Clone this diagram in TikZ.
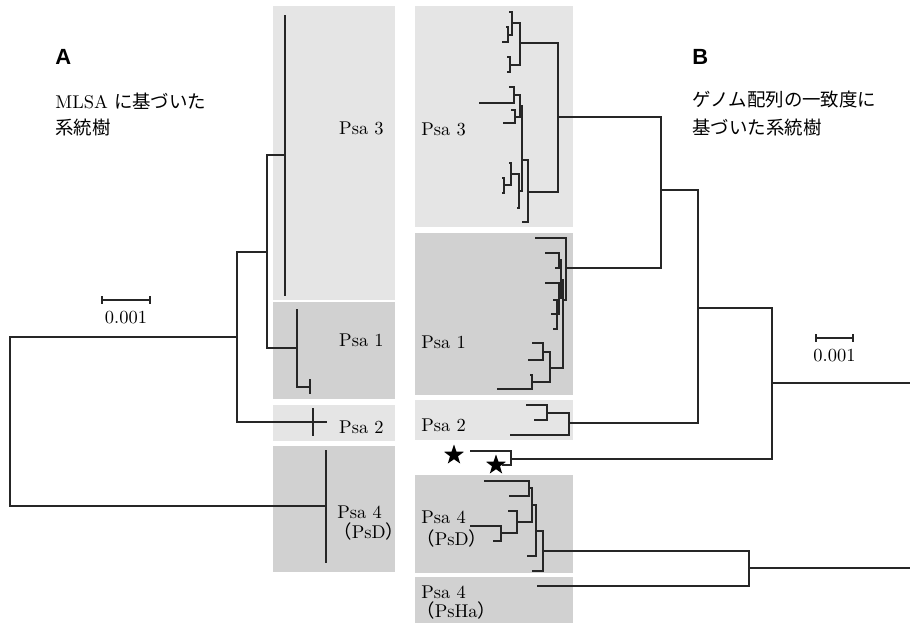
\documentclass[tikz,border=0pt]{standalone}
\usepackage{fontspec}
\newfontfamily\jpfont{Noto Sans CJK JP}
\newfontfamily\headfont{Liberation Sans}
\usetikzlibrary{shapes.geometric, arrows.meta, positioning}

\begin{document}
\begin{tikzpicture}[
    x=0.02cm, y=-0.02cm,
    branch/.style={draw=black!85, line width=0.6pt},
    lightbox/.style={fill=black!10},
    darkbox/.style={fill=black!18},
    lbl/.style={inner sep=0pt, font=\fontsize{10.5}{12}\selectfont},
    title/.style={inner sep=0pt, anchor=west, font=\headfont\bfseries\fontsize{12.5}{14}\selectfont},
    caption/.style={inner sep=0pt, anchor=west, font=\fontsize{10.5}{12}\selectfont},
    scalebar/.style={{Bar[width=4pt]}-{Bar[width=4pt]}, line width=1pt, draw=black!85},
    starmark/.style={star, star points=5, star point ratio=2.5, fill=black, inner sep=0pt, minimum size=0.42cm}
]
\useasboundingbox (0,0) rectangle (910,623);

% Clade backgrounds (A)
\path[lightbox] (273,6) rectangle (395,300);
\path[darkbox] (273,302) rectangle (395,399);
\path[lightbox] (273,405) rectangle (395,441);
\path[darkbox] (273,446) rectangle (395,572);

% Clade backgrounds (B)
\path[lightbox] (415,6) rectangle (573,227);
\path[darkbox] (415,233) rectangle (573,395);
\path[lightbox] (415,400) rectangle (573,440);
\path[darkbox] (415,475) rectangle (573,573);
\path[darkbox] (415,577) rectangle (573,623);

% Titles
\node[title] (titleA) at (55,57) {A};
\node[caption] (capA1) at (55,101) {MLSA {\jpfont に基づいた}};
\node[caption] (capA2) at (55,128) {\jpfont 系統樹};
\node[title] (titleB) at (692,57) {B};
\node[caption] (capB1) at (692,100) {\jpfont ゲノム配列の一致度に};
\node[caption] (capB2) at (692,128) {\jpfont 基づいた系統樹};

% Scale bars
\coordinate (sbAl) at (101,300);
\coordinate (sbAr) at (151,300);
\draw[scalebar] (sbAl) -- node[lbl, below=6pt] (sbAtext) {0.001} (sbAr);
\coordinate (sbBl) at (815,338);
\coordinate (sbBr) at (854,338);
\draw[scalebar] (sbBl) -- node[lbl, below=6pt] (sbBtext) {0.001} (sbBr);

% Clade labels (A)
\node[lbl, anchor=east] (lA3) at (384,128) {Psa 3};
\node[lbl, anchor=east] (lA1) at (384,340) {Psa 1};
\node[lbl, anchor=east] (lA2) at (384,427) {Psa 2};
\node[lbl, anchor=west] (lA4) at (337,512) {Psa 4};
\node[lbl, anchor=west] (lA4b) at (333,531) {{\jpfont （}PsD{\jpfont ）}};

% Clade labels (B)
\node[lbl, anchor=west] (lB3) at (421,129) {Psa 3};
\node[lbl, anchor=west] (lB1) at (421,342) {Psa 1};
\node[lbl, anchor=west] (lB2) at (421,425) {Psa 2};
\node[lbl, anchor=west] (lB4) at (421,517) {Psa 4};
\node[lbl, anchor=west] (lB4b) at (416,538) {{\jpfont （}PsD{\jpfont ）}};
\node[lbl, anchor=west] (lB5) at (421,592) {Psa 4};
\node[lbl, anchor=west] (lB5b) at (416,610) {{\jpfont （}PsHa{\jpfont ）}};

% Tree A
\coordinate (a3) at (285,155);
\coordinate (a3t) at (285,15);
\coordinate (a3b) at (285,296);
\coordinate (a1) at (297,348);
\coordinate (a1t) at (297,309);
\coordinate (a1b) at (310,387);
\coordinate (a2) at (327,422);
\coordinate (a4) at (326,506);
\coordinate (a31) at (267,252);
\coordinate (a312) at (237,337);
\coordinate (aroot) at (10,421);
\draw[branch] (a3t) -- (a3b);
\draw[branch] (a1t) -- (a1) |- (a1b);
\draw[branch] (310,379) -- (310,394);
\draw[branch] (313,408) -- (313,436);
\draw[branch, line width=1pt] (326,450) -- (326,563);
\draw[branch] (a3) -| (a31) |- (a1);
\draw[branch] (a31) -| (a312) |- (a2);
\draw[branch] (a312) -| (aroot) |- (a4);

% Tree B, Psa 3
\coordinate (n3a) at (508,35);
\coordinate (n3b) at (512,23);
\coordinate (n3c) at (510,65);
\coordinate (n3d) at (520,43);
\coordinate (n3f) at (514,95);
\coordinate (n3g) at (515,117);
\coordinate (n3h) at (520,106);
\coordinate (n3j) at (504,185);
\coordinate (n3i) at (511,174);
\coordinate (n3l) at (519,191);
\coordinate (n3m) at (522,160);
\coordinate (n3k) at (528,192);
\coordinate (n3e) at (558,117);
\draw[branch] (506,27) -| (n3a) |- (502,42);
\draw[branch] (509,12) -| (n3b) |- (n3a);
\draw[branch] (507,57) -| (n3c) |- (507,72);
\draw[branch] (n3b) -| (n3d) |- (n3c);
\draw[branch] (509,87) -| (n3f) |- (479,103);
\draw[branch] (511,110) -| (n3g) |- (503,123);
\draw[branch] (n3f) -| (n3h) |- (n3g);
\draw[branch] (502,178) -| (n3j) |- (502,193);
\draw[branch] (509,163) -| (n3i) |- (n3j);
\draw[branch] (n3i) -| (n3l) |- (517,208);
\draw[branch] (n3h) -| (n3m) |- (n3l);
\draw[branch] (n3m) -| (n3k) |- (522,222);
\draw[branch] (n3d) -| (n3e) |- (n3k);

% Tree B, Psa 1
\coordinate (n1a) at (559,260);
\coordinate (n1c) at (557,314);
\coordinate (n1b) at (559,298);
\coordinate (n1e) at (561,280);
\coordinate (n1f) at (543,352);
\coordinate (n1g) at (532,382);
\coordinate (n1h) at (550,368);
\coordinate (n1s) at (563,300);
\coordinate (n1r) at (566,268);
\draw[branch] (545,253) -| (n1a) |- (555,268);
\draw[branch] (553,300) -| (n1c) |- (553,329);
\draw[branch] (551,314) -- (n1c);
\draw[branch] (545,283) -| (n1b) |- (n1c);
\draw[branch] (n1a) -| (n1e) |- (n1b);
\draw[branch] (532,343) -| (n1f) |- (528,360);
\draw[branch] (530,375) -| (n1g) |- (497,389);
\draw[branch] (n1f) -| (n1h) |- (n1g);
\draw[branch] (n1e) -| (n1s) |- (n1h);
\draw[branch] (535,238) -| (n1r) |- (n1s);

% Tree B, Psa 2
\coordinate (n2a) at (547,413);
\coordinate (n2r) at (569,423);
\draw[branch] (526,405) -| (n2a) |- (534,420);
\draw[branch] (n2a) -| (n2r) |- (510,435);

% Tree B, stars
\coordinate (nS) at (511,459);
\node[starmark] (star1) at (454,455) {};
\node[starmark] (star2) at (496,465) {};
\draw[branch] (470,451) -| (nS) |- (star2.east);

% Tree B, Psa 4
\coordinate (nDa) at (529,488);
\coordinate (nDb) at (501,533);
\coordinate (nDc) at (517,522);
\coordinate (nDd) at (532,505);
\coordinate (nDe) at (536,531);
\coordinate (nDf) at (543,551);
\coordinate (nDr) at (749,568);
\draw[branch] (484,481) -| (nDa) |- (509,496);
\draw[branch] (470,526) -| (nDb) |- (493,541);
\draw[branch] (508,511) -| (nDc) |- (nDb);
\draw[branch] (nDa) -| (nDd) |- (nDc);
\draw[branch] (nDd) -| (nDe) |- (527,556);
\draw[branch] (nDe) -| (nDf) |- (532,571);
\draw[branch] (nDf) -| (nDr) |- (537,586);

% Tree B, backbone
\coordinate (nB1) at (661,190);
\coordinate (nB2) at (698,308);
\coordinate (nB3) at (772,383);
\coordinate (endB1) at (910,383);
\coordinate (endB2) at (910,568);
\draw[branch] (n3e) -| (nB1) |- (n1r);
\draw[branch] (nB1) -| (nB2) |- (n2r);
\draw[branch] (nB2) -| (nB3) |- (nS);
\draw[branch] (nB3) -- (endB1);
\draw[branch] (nDr) -- (endB2);

\end{tikzpicture}
\end{document}
